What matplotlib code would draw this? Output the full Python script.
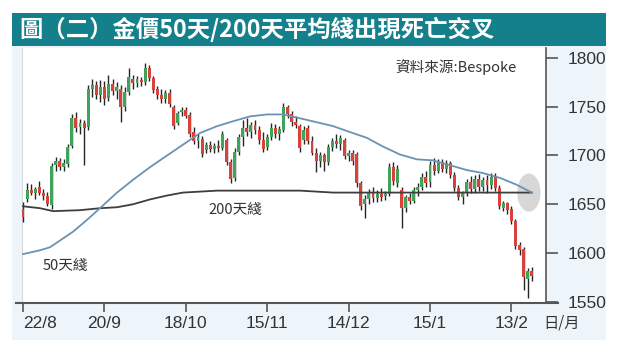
import matplotlib
matplotlib.use("Agg")
import matplotlib.pyplot as plt
from matplotlib import font_manager
from matplotlib.patches import Rectangle, Ellipse
from matplotlib.lines import Line2D
import numpy as np

names = {f.name for f in font_manager.fontManager.ttflist}
NUM_FONT = 'Liberation Sans Narrow' if 'Liberation Sans Narrow' in names else 'Liberation Sans'
CJK = ['Noto Sans CJK TC', 'DejaVu Sans']

# ---------------- data ----------------
title = "圖（二）金價50天/200天平均綫出現死亡交叉"
source = "資料來源:Bespoke"
tick_labels = ["22/8", "20/9", "18/10", "15/11", "14/12", "15/1", "13/2"]
tick_pos = [0, 20, 40, 60, 80, 100, 120]
y_ticks = [1550, 1600, 1650, 1700, 1750, 1800]

opens = [1645, 1655, 1665, 1662, 1668, 1662, 1659, 1649, 1690, 1694,
         1688, 1691, 1710, 1738, 1729, 1733, 1729, 1768, 1772, 1762,
         1770, 1759, 1773, 1766, 1768, 1750, 1765, 1778, 1774, 1777,
         1775, 1790, 1779, 1768, 1762, 1758, 1764, 1750, 1733, 1744,
         1747, 1741, 1724, 1715, 1717, 1706, 1711, 1707, 1710, 1708,
         1716, 1693, 1677, 1704, 1719, 1728, 1724, 1731, 1726, 1716,
         1709, 1719, 1728, 1722, 1726, 1750, 1742, 1734, 1730, 1716,
         1728, 1715, 1703, 1694, 1700, 1693, 1709, 1715, 1712, 1716,
         1699, 1703, 1701, 1672, 1650, 1655, 1662, 1656, 1661, 1658,
         1661, 1688, 1672, 1665, 1646, 1657, 1653, 1665, 1668, 1678,
         1673, 1690, 1684, 1693, 1686, 1692, 1680, 1667, 1657, 1662,
         1673, 1666, 1676, 1668, 1675, 1670, 1678, 1667, 1646, 1651,
         1645, 1633, 1608, 1604, 1574, 1582]
highs = [1652, 1672, 1671, 1668, 1674, 1666, 1663, 1692, 1698, 1697,
         1696, 1712, 1742, 1744, 1737, 1736, 1772, 1778, 1776, 1777,
         1776, 1782, 1778, 1775, 1772, 1770, 1790, 1782, 1781, 1780,
         1795, 1793, 1781, 1771, 1768, 1767, 1768, 1752, 1746, 1750,
         1750, 1744, 1729, 1722, 1720, 1714, 1715, 1713, 1716, 1725,
         1718, 1696, 1708, 1722, 1736, 1738, 1734, 1736, 1730, 1724,
         1722, 1733, 1732, 1730, 1754, 1752, 1746, 1740, 1732, 1730,
         1731, 1720, 1708, 1704, 1703, 1712, 1718, 1722, 1721, 1718,
         1706, 1706, 1704, 1674, 1660, 1666, 1668, 1665, 1667, 1664,
         1692, 1693, 1690, 1668, 1660, 1662, 1668, 1672, 1682, 1684,
         1694, 1697, 1696, 1696, 1695, 1694, 1683, 1670, 1664, 1676,
         1679, 1680, 1681, 1678, 1680, 1682, 1682, 1670, 1653, 1652,
         1648, 1635, 1611, 1606, 1585, 1586]
lows = [1632, 1652, 1660, 1655, 1660, 1654, 1648, 1645, 1684, 1685,
        1684, 1688, 1708, 1724, 1722, 1690, 1726, 1760, 1758, 1755,
        1752, 1756, 1762, 1758, 1734, 1746, 1762, 1768, 1770, 1771,
        1772, 1776, 1764, 1758, 1754, 1754, 1750, 1727, 1731, 1740,
        1738, 1719, 1712, 1708, 1698, 1703, 1704, 1703, 1704, 1706,
        1690, 1672, 1674, 1700, 1710, 1720, 1718, 1722, 1712, 1704,
        1706, 1716, 1718, 1716, 1724, 1738, 1730, 1728, 1704, 1712,
        1712, 1700, 1683, 1688, 1684, 1690, 1705, 1708, 1706, 1696,
        1694, 1690, 1668, 1644, 1636, 1650, 1652, 1652, 1653, 1654,
        1658, 1670, 1668, 1626, 1642, 1650, 1651, 1658, 1665, 1668,
        1668, 1680, 1682, 1683, 1682, 1677, 1664, 1654, 1650, 1658,
        1662, 1662, 1664, 1664, 1662, 1666, 1664, 1645, 1643, 1640,
        1630, 1604, 1598, 1562, 1554, 1572]
closes = [1637, 1665, 1662, 1666, 1662, 1659, 1650, 1689, 1694, 1688,
          1692, 1709, 1738, 1728, 1733, 1728, 1768, 1772, 1762, 1770,
          1758, 1773, 1766, 1770, 1750, 1765, 1780, 1774, 1778, 1775,
          1790, 1779, 1767, 1762, 1758, 1764, 1753, 1730, 1743, 1747,
          1740, 1722, 1715, 1719, 1701, 1711, 1707, 1710, 1708, 1722,
          1693, 1676, 1704, 1719, 1728, 1724, 1731, 1726, 1716, 1707,
          1719, 1728, 1722, 1727, 1750, 1742, 1734, 1731, 1708, 1726,
          1715, 1703, 1694, 1700, 1693, 1709, 1715, 1712, 1718, 1699,
          1703, 1694, 1672, 1648, 1655, 1662, 1656, 1661, 1657, 1661,
          1688, 1674, 1686, 1646, 1657, 1653, 1665, 1668, 1678, 1672,
          1690, 1684, 1693, 1686, 1692, 1680, 1667, 1657, 1662, 1673,
          1666, 1676, 1668, 1675, 1670, 1678, 1667, 1648, 1651, 1644,
          1633, 1607, 1603, 1576, 1582, 1577]

ma50_idx = [0, 4.2, 6.6, 9.1, 12.3, 15.7, 18.9, 23.1, 27.0, 31.2, 35.4, 39.3,
            43.5, 47.7, 51.6, 55.8, 60.0, 63.9, 68.1, 72.2, 76.2, 80.3, 84.5,
            88.5, 92.6, 96.8, 100.7, 104.9, 109.1, 113.0, 117.2, 121.3, 125]
ma50_val = [1599, 1603, 1606, 1613, 1622, 1634, 1646, 1662, 1675, 1688, 1700, 1711,
            1723, 1730, 1735, 1740, 1742, 1742, 1738, 1734, 1730, 1724, 1718,
            1709, 1701, 1696, 1695, 1690, 1685, 1682, 1677, 1670, 1662]
ma200_idx = [0, 4.2, 7.4, 14.0, 18.9, 23.1, 27.0, 31.2, 35.4, 39.3, 43.5, 47.7,
             68.1, 76.2, 125]
ma200_val = [1648, 1646, 1643, 1644, 1646, 1647, 1650, 1655, 1659, 1662, 1663, 1664,
             1664, 1662, 1662]

# ---------------- figure ----------------
W, H = 617, 351
fig = plt.figure(figsize=(W / 100, H / 100), dpi=100)
fig.patch.set_facecolor('white')

def fx(px):
    return px / W

def fy(py):
    return (H - py) / H

# light panel and title band
fig.patches.append(Rectangle((fx(12), fy(340)), fx(606) - fx(12), fy(46) - fy(340),
                             transform=fig.transFigure, facecolor='#edf5fb',
                             edgecolor='none', zorder=-2))
fig.patches.append(Rectangle((fx(12), fy(46)), fx(606) - fx(12), fy(13) - fy(46),
                             transform=fig.transFigure, facecolor='#14808b',
                             edgecolor='none', zorder=-2))
fig.text(fx(19), fy(29.5), title, color='white', fontsize=16.8, fontweight='bold',
         family=CJK, va='center', ha='left')

ax = fig.add_axes([fx(22), fy(302), fx(546) - fx(22), fy(48) - fy(302)])
ax.set_facecolor('white')

x = np.arange(len(closes))
o = np.array(opens); c = np.array(closes)
hi = np.array(highs); lo = np.array(lows)
up = c >= o
colors = np.where(up, '#3fa35c', '#d8423a')

ax.vlines(x, lo, hi, color='#262626', linewidth=1.0, zorder=3)
ax.bar(x, np.maximum(np.abs(c - o), 0.8), bottom=np.minimum(o, c), width=0.72,
       color=colors, edgecolor='none', zorder=4)

ax.add_patch(Ellipse((124.3, 1662), 5.7, 39, facecolor='#d0d0d0', edgecolor='none',
                     alpha=0.85, zorder=2))

ax.plot(ma200_idx, ma200_val, color='#3e3e3e', linewidth=1.3, zorder=5)
ax.plot(ma50_idx, ma50_val, color='#6a93b3', linewidth=1.3, zorder=5)

ax.text(45.5, 1644, "200天綫", family=CJK, fontsize=10.5, color='#333333',
        va='center', ha='left', zorder=6)
ax.text(4.9, 1587, "50天綫", family=CJK, fontsize=10.5, color='#333333',
        va='center', ha='left', zorder=6)

ax.set_xlim(-0.25, 128.5)
ax.set_ylim(1550, 1810)

ax.spines['top'].set_visible(False)
ax.spines['bottom'].set_visible(False)
ax.spines['left'].set_color('#d5dbe0')
ax.spines['left'].set_linewidth(0.8)
ax.spines['right'].set_color('#555555')
ax.spines['right'].set_linewidth(1.2)

ax.yaxis.tick_right()
ax.set_yticks(y_ticks)
ax.set_yticklabels([str(v) for v in y_ticks], family=NUM_FONT, fontsize=12.5,
                   color='#333333')
ax.tick_params(axis='y', direction='out', length=8.5, width=1.2, color='#555555', pad=7)

ax.set_xticks(tick_pos)
ax.set_xticklabels(tick_labels, family=NUM_FONT, fontsize=12.5, color='#333333')
ax.tick_params(axis='x', direction='out', length=7, width=1.2, color='#555555', pad=3)
xl = ax.get_xticklabels()
xl[0].set_horizontalalignment('left')

# bottom axis line extending beyond plot
fig.add_artist(Line2D([fx(16), fx(558)], [fy(302.5), fy(302.5)], transform=fig.transFigure,
                      color='#555555', linewidth=1.5))

fig.text(fx(395), fy(67), source, family=CJK, fontsize=10.5, color='#333333',
         va='center', ha='left')
fig.text(fx(543), fy(323), "日/月", family=CJK, fontsize=11, color='#333333',
         va='center', ha='left')

fig.savefig('out.png', dpi=100)
